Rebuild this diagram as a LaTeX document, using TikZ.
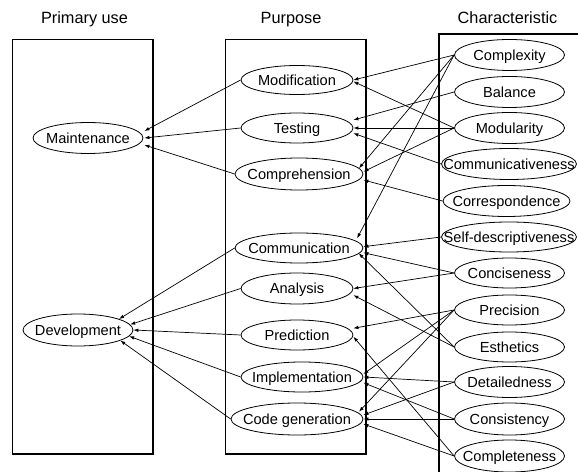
\documentclass[tikz,border=0pt]{standalone}
\usepackage{fontspec}
\setmainfont{Liberation Sans}
\usetikzlibrary{arrows.meta,calc,shapes.geometric}
\begin{document}
\begin{tikzpicture}[x=1bp,y=-1bp,
  ell/.style={draw, ellipse, inner sep=0pt, line width=0.8bp,
    font=\fontsize{14.6bp}{17bp}\selectfont, text height=10.45bp, text depth=0pt},
  esz/.style 2 args={minimum width=#1bp, minimum height=#2bp},
  hdr/.style={inner sep=0pt, font=\fontsize{16.3bp}{19bp}\selectfont,
    text height=11.7bp, text depth=0pt},
  colbox/.style={draw, line width=1.2bp},
  link/.style={line width=0.7bp, -{Latex[length=5bp,width=3.6bp]}},
]
\useasboundingbox (0,0) rectangle (578,472);

% column frames
\draw[colbox] (12.7,39.3) rectangle (153,454);
\draw[colbox] (225.7,39.3) rectangle (366,454);
\draw[colbox] (439,472) -- (439,34) -- (578,34);

% headers
\node[hdr] (h1) at (84.5,17.3) {Primary use};
\node[hdr] (h2) at (291,17.3) {Purpose};
\node[hdr] (h3) at (507.5,17.3) {Characteristic};

% primary use
\node[ell, esz={110}{31}] (maint) at (88,138) {\makebox[0pt]{Maintenance}};
\node[ell, esz={110}{32}] (devel) at (78,330) {\makebox[0pt]{Development}};

% purpose
\node[ell, esz={112}{29}] (modif) at (297,80) {\makebox[0pt]{Modification}};
\node[ell, esz={112}{30}] (testing) at (297,128) {\makebox[0pt]{Testing}};
\node[ell, esz={128}{32}] (compr) at (299,174) {\makebox[0pt]{Comprehension}};
\node[ell, esz={128}{30}] (commun) at (299,248) {\makebox[0pt]{Communication}};
\node[ell, esz={112}{31}] (analysis) at (297,288.5) {\makebox[0pt]{Analysis}};
\node[ell, esz={112}{30}] (predict) at (297,335) {\makebox[0pt]{Prediction}};
\node[ell, esz={122}{30}] (impl) at (302,377) {\makebox[0pt]{Implementation}};
\node[ell, esz={132}{32}] (codegen) at (297,419) {\makebox[0pt]{Code generation}};

% characteristic
\node[ell, esz={110}{31}] (complexity) at (509.5,55) {\makebox[0pt]{Complexity}};
\node[ell, esz={110}{31}] (balance) at (509.5,92) {\makebox[0pt]{Balance}};
\node[ell, esz={110}{31}] (modularity) at (509.5,128) {\makebox[0pt]{Modularity}};
\node[ell, esz={135}{31}] (communicativeness) at (509,164) {\makebox[0pt]{Communicativeness}};
\node[ell, esz={127}{31}] (correspondence) at (506.5,201) {\makebox[0pt]{Correspondence}};
\node[ell, esz={135}{30}] (selfdesc) at (509,237) {\makebox[0pt]{Self-descriptiveness}};
\node[ell, esz={110}{30}] (conciseness) at (509.5,273) {\makebox[0pt]{Conciseness}};
\node[ell, esz={110}{30}] (precision) at (509.5,310) {\makebox[0pt]{Precision}};
\node[ell, esz={110}{30}] (esthetics) at (509.5,347) {\makebox[0pt]{Esthetics}};
\node[ell, esz={110}{31}] (detailedness) at (509.5,382) {\makebox[0pt]{Detailedness}};
\node[ell, esz={110}{32}] (consistency) at (509.5,419) {\makebox[0pt]{Consistency}};
\node[ell, esz={110}{32}] (completeness) at (509.5,456) {\makebox[0pt]{Completeness}};

% purpose -> primary use
\draw[link] (modif.west) -- ([xshift=1bp,yshift=7bp]maint.east);
\draw[link] (testing.west) -- ([xshift=1bp]maint.east);
\draw[link] (compr.west) -- ([xshift=1bp,yshift=-7bp]maint.east);
\draw[link] (commun.west) -- (devel.15);
\draw[link] (analysis.west) -- (devel.6);
\draw[link] (predict.west) -- (devel.0);
\draw[link] (impl.west) -- (devel.-7);
\draw[link] (codegen.west) -- (devel.-14);

% characteristic -> purpose
\draw[link] (complexity.west) -- (modif.east);
\draw[link] (modularity.west) -- ([yshift=-1.5bp]modif.east);
\draw[link] (balance.west) -- ([yshift=8bp]testing.east);
\draw[link] (modularity.west) -- (testing.east);
\draw[link] (communicativeness.west) -- ([yshift=-5.3bp]testing.east);
\draw[link] (complexity.west) -- ([xshift=-4.4bp,yshift=5.7bp]compr.east);
\draw[link] (modularity.west) -- ([yshift=2.3bp]compr.east);
\draw[link] (correspondence.west) -- ([yshift=-6bp]compr.east);
\draw[link] (complexity.west) -- ([xshift=-6.3bp,yshift=9.7bp]commun.east);
\draw[link] (selfdesc.west) -- ([yshift=1.3bp]commun.east);
\draw[link] (conciseness.west) -- ([yshift=-4.7bp]commun.east);
\draw[link] (esthetics.west) -- ([xshift=-4.7bp,yshift=-5.3bp]commun.east);
\draw[link] (conciseness.west) -- (analysis.east);
\draw[link] (esthetics.west) -- ([yshift=-6.7bp]analysis.east);
\draw[link] (precision.west) -- ([yshift=6.7bp]predict.east);
\draw[link] (completeness.west) -- ([yshift=-1.7bp]predict.east);
\draw[link] (precision.west) -- ([yshift=3bp]impl.east);
\draw[link] (detailedness.west) -- (impl.east);
\draw[link] (consistency.west) -- ([yshift=-5.7bp]impl.east);
\draw[link] (precision.west) -- ([xshift=-4.4bp,yshift=7.3bp]codegen.east);
\draw[link] (detailedness.west) -- ([yshift=4bp]codegen.east);
\draw[link] (consistency.west) -- (codegen.east);
\draw[link] (completeness.west) -- ([yshift=-5bp]codegen.east);
\end{tikzpicture}
\end{document}
